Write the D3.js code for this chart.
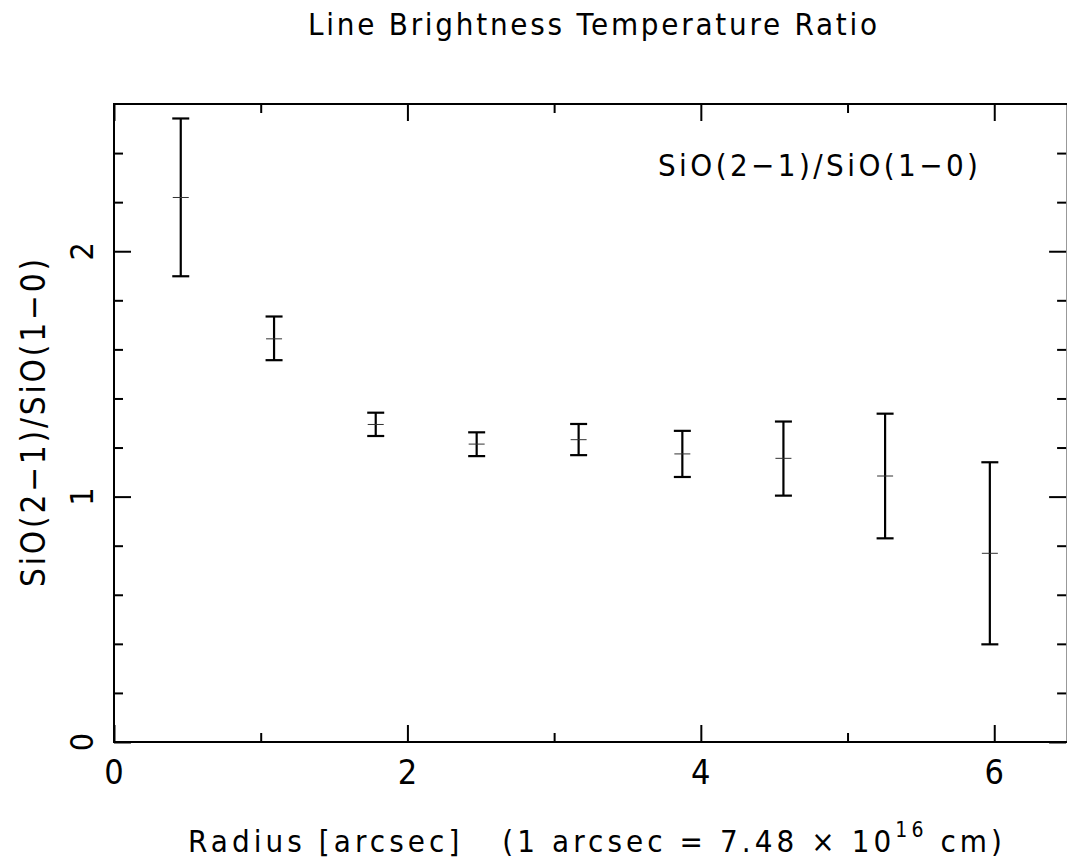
<!DOCTYPE html>
<html>
<head>
<meta charset="utf-8">
<script src="https://cdn.jsdelivr.net/npm/d3@7"></script>
<style>
  html, body { margin: 0; padding: 0; background: #fff; }
  svg { display: block; }
  text { font-family: "DejaVu Sans Condensed", "DejaVu Sans", sans-serif; fill: #000; }
</style>
</head>
<body>
<svg id="chart" width="1067" height="863"></svg>
<script>
// ---- data ----
const radius = [0.455, 1.091, 1.784, 2.472, 3.167, 3.874, 4.563, 5.256, 5.970];
const ratio  = [2.219, 1.643, 1.294, 1.214, 1.232, 1.174, 1.156, 1.084, 0.769];
const errHi  = [2.541, 1.734, 1.342, 1.262, 1.296, 1.268, 1.306, 1.338, 1.140];
const errLo  = [1.898, 1.556, 1.247, 1.165, 1.169, 1.080, 1.004, 0.830, 0.398];
const xMajorTicks = [0, 2, 4, 6];
const xMinorTicks = [1, 3, 5];
const yMajorTicks = [0, 1, 2];
const yMinorTicks = [0.2, 0.4, 0.6, 0.8, 1.2, 1.4, 1.6, 1.8, 2.2, 2.4];
const titleText = "Line Brightness Temperature Ratio";
const yLabelText = "SiO(2\u22121)/SiO(1\u22120)";
const legendText = "SiO(2\u22121)/SiO(1\u22120)";

// ---- layout ----
const L = 114, R = 1067.6, T = 104, B = 742;
const svg = d3.select("#chart");
const x = d3.scaleLinear().domain([0, 6.5]).range([L, R]);
const y = d3.scaleLinear().domain([0, 2.6]).range([B, T]);

const majorLen = 17, minorLen = 9;

// frame
svg.append("rect").attr("x", L).attr("y", T).attr("width", R - L).attr("height", B - T)
  .attr("fill", "none").attr("stroke", "#000").attr("stroke-width", 2);

function styleAxis(g) {
  g.select(".domain").remove();
  g.selectAll(".tick line").attr("stroke", "#000").attr("stroke-width", 2);
  g.selectAll(".tick text").remove();
}
// bottom
svg.append("g").attr("transform", `translate(0,${B})`)
  .call(d3.axisTop(x).tickValues(xMajorTicks).tickSize(majorLen)).call(styleAxis);
svg.append("g").attr("transform", `translate(0,${B})`)
  .call(d3.axisTop(x).tickValues(xMinorTicks).tickSize(minorLen)).call(styleAxis);
// top
svg.append("g").attr("transform", `translate(0,${T})`)
  .call(d3.axisBottom(x).tickValues(xMajorTicks).tickSize(majorLen)).call(styleAxis);
svg.append("g").attr("transform", `translate(0,${T})`)
  .call(d3.axisBottom(x).tickValues(xMinorTicks).tickSize(minorLen)).call(styleAxis);
// left
svg.append("g").attr("transform", `translate(${L},0)`)
  .call(d3.axisRight(y).tickValues(yMajorTicks).tickSize(majorLen)).call(styleAxis);
svg.append("g").attr("transform", `translate(${L},0)`)
  .call(d3.axisRight(y).tickValues(yMinorTicks).tickSize(minorLen)).call(styleAxis);
// right
svg.append("g").attr("transform", `translate(${R - 1.5},0)`)
  .call(d3.axisLeft(y).tickValues(yMajorTicks).tickSize(majorLen)).call(styleAxis);
svg.append("g").attr("transform", `translate(${R - 1.5},0)`)
  .call(d3.axisLeft(y).tickValues(yMinorTicks).tickSize(minorLen)).call(styleAxis);

// tick labels
svg.append("g").selectAll("text").data(xMajorTicks).join("text")
  .attr("x", d => x(d)).attr("y", 784)
  .attr("text-anchor", "middle").attr("font-size", 34)
  .text(d => d);
svg.append("g").selectAll("text").data(yMajorTicks).join("text")
  .attr("transform", d => `translate(93,${y(d)}) rotate(-90)`)
  .attr("text-anchor", "middle").attr("font-size", 32)
  .text(d => d);

function fitWidth(sel, target) {
  const node = sel.node();
  const len = node.getComputedTextLength();
  const n = node.textContent.length;
  if (n > 1) sel.attr("letter-spacing", (target - len) / (n - 1));
}

// title
const title = svg.append("text").attr("x", 308).attr("y", 35)
  .attr("font-size", 31).text(titleText);
fitWidth(title, 569);

// legend
const leg = svg.append("text").attr("x", 658).attr("y", 176)
  .attr("font-size", 31).text(legendText);
fitWidth(leg, 320);

// y label
const yl = svg.append("text").attr("transform", "translate(45,587) rotate(-90)")
  .attr("font-size", 33).text(yLabelText);
fitWidth(yl, 328);

// x label with superscript
const xl = svg.append("text").attr("x", 188).attr("y", 852).attr("font-size", 31);
xl.append("tspan").text("Radius [arcsec]\u00a0\u00a0\u00a0(1 arcsec = 7.48 \u00d7 10");
xl.append("tspan").attr("font-size", 21).attr("dy", -15).text("16");
xl.append("tspan").attr("dy", 15).text(" cm)");
fitWidth(xl, 814);

// error bars
const capW = 17, midW = 16;
const pts = radius.map((r, i) => ({ r, v: ratio[i], hi: errHi[i], lo: errLo[i] }));
const eb = svg.append("g");
eb.selectAll("line.v").data(pts).join("line").attr("class", "v")
  .attr("x1", d => x(d.r)).attr("x2", d => x(d.r))
  .attr("y1", d => y(d.hi)).attr("y2", d => y(d.lo))
  .attr("stroke", "#000").attr("stroke-width", 2.2);
eb.selectAll("line.hi").data(pts).join("line").attr("class", "hi")
  .attr("x1", d => x(d.r) - capW / 2).attr("x2", d => x(d.r) + capW / 2)
  .attr("y1", d => y(d.hi)).attr("y2", d => y(d.hi))
  .attr("stroke", "#000").attr("stroke-width", 2.2);
eb.selectAll("line.lo").data(pts).join("line").attr("class", "lo")
  .attr("x1", d => x(d.r) - capW / 2).attr("x2", d => x(d.r) + capW / 2)
  .attr("y1", d => y(d.lo)).attr("y2", d => y(d.lo))
  .attr("stroke", "#000").attr("stroke-width", 2.2);
eb.selectAll("line.m").data(pts).join("line").attr("class", "m")
  .attr("x1", d => x(d.r) - midW / 2).attr("x2", d => x(d.r) + midW / 2)
  .attr("y1", d => y(d.v)).attr("y2", d => y(d.v))
  .attr("stroke", "#333").attr("stroke-width", 1);
</script>
</body>
</html>
